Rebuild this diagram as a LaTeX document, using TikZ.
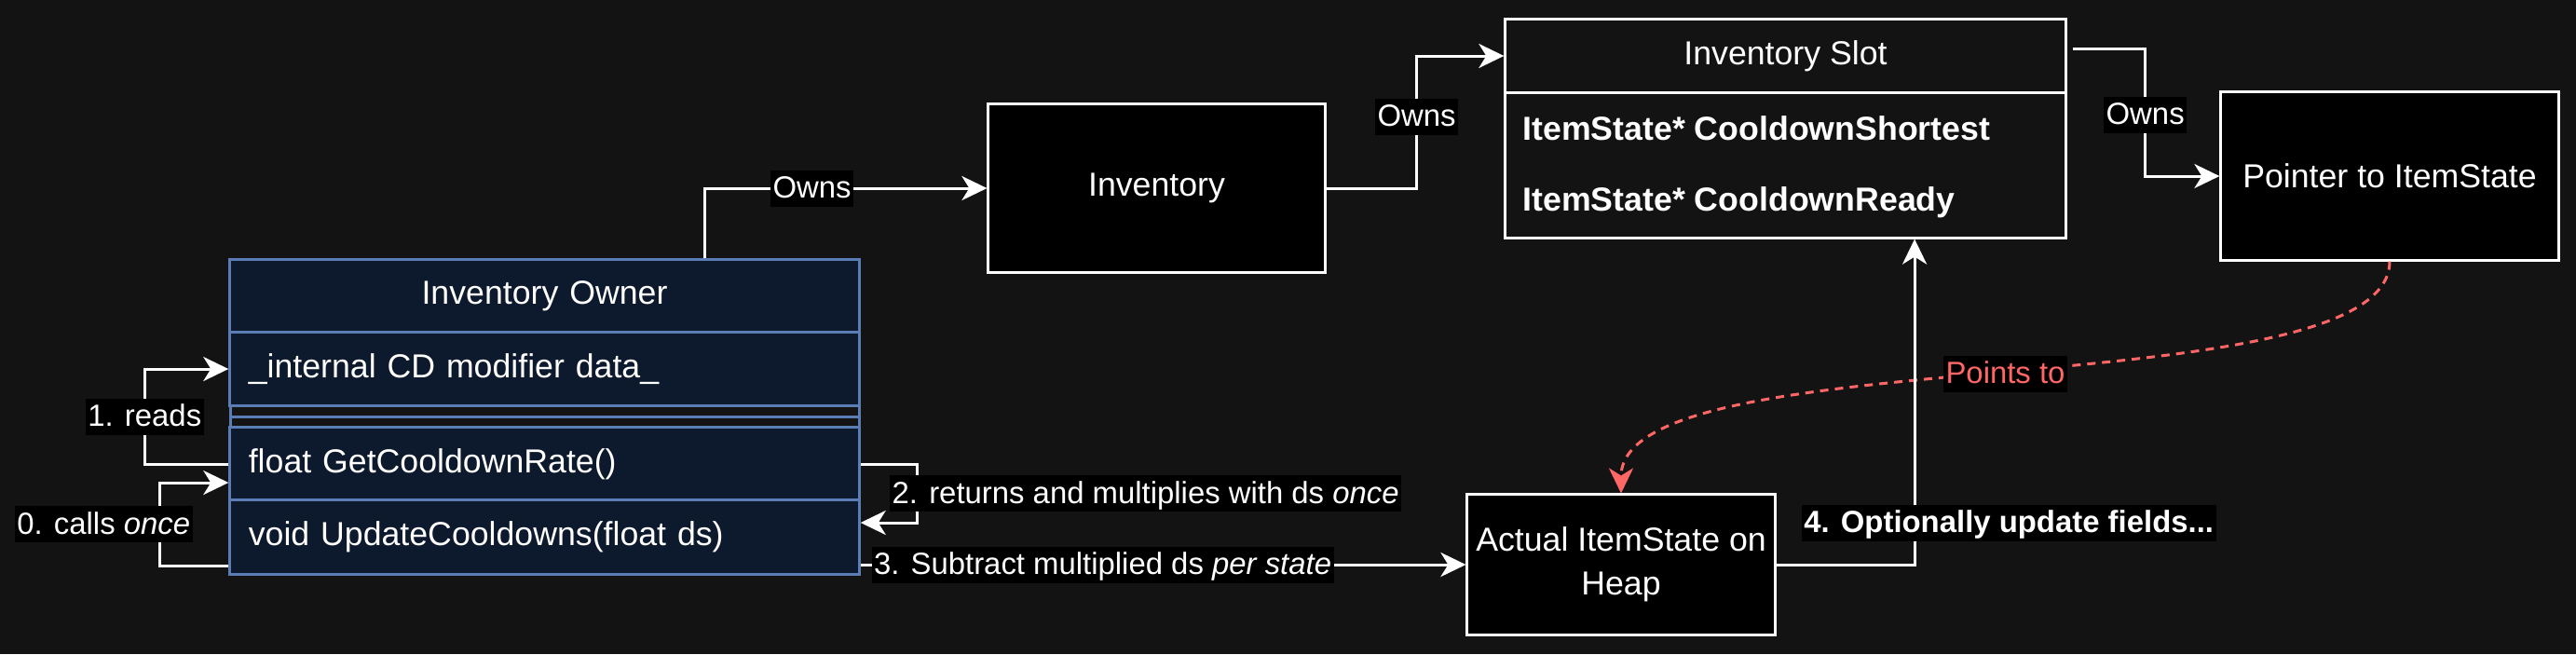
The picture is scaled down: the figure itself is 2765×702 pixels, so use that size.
\documentclass[tikz,border=0pt]{standalone}
\usepackage{fontspec}
\setmainfont{Liberation Sans}
\usepackage{tikz}
\usepackage{xcolor}
\usetikzlibrary{arrows.meta}

\definecolor{bg}{HTML}{131313}
\definecolor{ownerfill}{HTML}{0D1A2D}
\definecolor{ownerline}{HTML}{5A7DB5}
\definecolor{pointred}{HTML}{FF6666}

\begin{document}
\begin{tikzpicture}[x=0.01cm,y=-0.01cm,line width=0.03cm,
  >={Stealth[length=0.27cm,width=0.26cm,inset=0.08cm]},
  box/.style={draw=white,fill=black,text=white,inner sep=0pt,align=center,
    font=\fontsize{10.15}{13.3}\selectfont},
  row/.style={draw=ownerline,fill=ownerfill,text=white,inner xsep=0.2cm,inner ysep=0pt,
    text width=6.35cm,align=left,minimum height=0.78cm,font=\fontsize{10.15}{12}\selectfont},
  field/.style={anchor=west,text=white,inner sep=0pt,font=\fontsize{10.15}{12}\selectfont\bfseries},
  lbl/.style={fill=black,text=white,inner xsep=0.025cm,inner ysep=0.01cm,
    text height=0.29cm,text depth=0.08cm,font=\fontsize{9.35}{11}\selectfont},
  boldlbl/.style={lbl,font=\fontsize{9.35}{11}\selectfont\bfseries}]

\useasboundingbox (0,0) rectangle (2765,702);
\fill[bg] (0,0) rectangle (2765,702);

\node[row,align=center] (ownerhead) at (584.5,318) {Inventory Owner};
\node[row] (ownerattr) at (584.5,396) {\_internal CD modifier data\_};
\draw[ownerline,fill=bg] (247,435) rectangle (922,459);
\draw[ownerline] (247,447) -- (922,447);
\node[row] (ownerget) at (584.5,498) {float GetCooldownRate()};
\node[row,minimum height=0.79cm] (ownerupd) at (584.5,576.5) {void UpdateCooldowns(float ds)};

\node[box,minimum width=3.61cm,minimum height=1.8cm] (inv) at (1241.5,202) {Inventory};
\node[box,fill=none,minimum width=6.01cm,minimum height=2.34cm] (slot) at (1916.5,138) {};
\node[box,fill=none,minimum width=6.01cm,minimum height=0.78cm] (slothead) at (1916.5,60) {Inventory Slot};
\node[field] (shortest) at (1633,138) {ItemState* CooldownShortest};
\node[field] (ready) at (1633,217) {ItemState* CooldownReady};
\node[box,minimum width=3.62cm,minimum height=1.8cm] (ptr) at (2565,189) {Pointer to ItemState};
\node[box,minimum width=3.3cm,minimum height=1.5cm] (heap) at (1740,606) {Actual ItemState on\\Heap};

\draw[pointred,dash pattern=on 0.09cm off 0.07cm,->] (ptr.south) .. controls +(0,160) and +(0,-170) .. node[lbl,text=pointred] (pointlbl) {Points to} (heap.north);

\draw[white,->] ([xshift=-1.67cm]ownerhead.north east) |- node[lbl,pos=0.69] (ownsinv) {Owns} (inv.west);
\draw[white,->] (inv.east) -- ++(97,0) |- node[lbl,pos=0.27] (ownsslot) {Owns} (slothead.west);
\draw[white,->] ([xshift=0.06cm,yshift=0.08cm]slothead.east) -- ++(78,0) |- node[lbl,pos=0.26] (ownsptr) {Owns} (ptr.west);

\draw[white,->] (ownerget.west) -- ++(-90,0) |- node[lbl,pos=0.25] (readslbl) {1. reads} (ownerattr.west);
\draw[white,->] ([yshift=-0.305cm]ownerupd.west) -- ++(-74,0) |- node[lbl,pos=0.25,xshift=-0.6cm] (callslbl) {0. calls \textit{once}} ([yshift=-0.2cm]ownerget.west);
\draw[white,->] (ownerget.east) -- ++(61,0) |- node[lbl,pos=0.25,anchor=west,xshift=-0.31cm] (retlbl) {2. returns and multiplies with ds \textit{once}} ([yshift=0.155cm]ownerupd.east);
\draw[white,->] (ownerupd.east |- heap.west) -- node[lbl,pos=0.4] (sublbl) {3. Subtract multiplied ds \textit{per state}} (heap.west);
\draw[white,->] (heap.east) -| node[boldlbl,pos=0.564,xshift=1.01cm] (optlbl) {4. Optionally update fields...} ([xshift=1.385cm]slot.south);
\end{tikzpicture}
\end{document}
